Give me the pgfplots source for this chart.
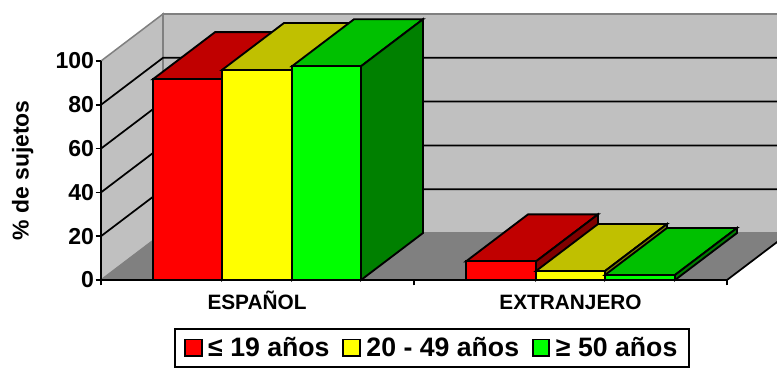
\documentclass[border=0pt]{standalone}
\usepackage{pgfplots}
\pgfplotsset{compat=1.18}
\usepackage{fontspec}
\setmainfont{Liberation Sans}
\definecolor{wall}{HTML}{C0C0C0}
\definecolor{flr}{HTML}{808080}
\definecolor{rF}{HTML}{FF0000}\definecolor{rT}{HTML}{C00000}\definecolor{rS}{HTML}{800000}
\definecolor{yF}{HTML}{FFFF00}\definecolor{yT}{HTML}{C0C000}\definecolor{yS}{HTML}{808000}
\definecolor{gF}{HTML}{00FF00}\definecolor{gT}{HTML}{00C000}\definecolor{gS}{HTML}{008000}
\pgfplotsset{
  face/.style={draw=black,line width=1.4pt,line join=miter,mark=none,forget plot},
  grd/.style={draw=black,line width=1.3pt,mark=none,forget plot},
  barf/.style={ybar,bar width=69.5,bar shift=0pt,draw=black,line width=1.4pt,fill=#1},
}
\begin{document}
\begin{tikzpicture}
\useasboundingbox (0,0) rectangle (582.75pt,276pt);
\clip (0,0) rectangle (582.75pt,276pt);
\begin{axis}[
  at={(75.75pt,66pt)},anchor=south west,
  x=0.75pt,y=1.6425pt,
  xmin=101,xmax=727,ymin=0,ymax=100,
  clip=false,axis on top=true,
  axis x line*=bottom,axis y line*=left,
  axis line style={line width=1.3pt,black},
  font=\bfseries\fontsize{15.6}{18}\selectfont,
  /pgf/number format/assume math mode=true,
  ytick={0,20,40,60,80,100},
  ytick style={black,line width=1.3pt},
  tick align=outside,
  major tick length=4pt,minor tick length=4pt,
  yticklabel style={font=\bfseries\fontsize{17.3}{20}\selectfont,inner sep=0pt,xshift=-1pt},
  xtick={257,570.5},
  xticklabels={ESPAÑOL,EXTRANJERO},
  major x tick style={draw=none},
  minor xtick={101,414,727},
  minor x tick style={black,line width=1.3pt},
  xticklabel style={font=\bfseries\fontsize{15.6}{18}\selectfont,inner sep=0pt,text height=11.2pt,text depth=0pt,yshift=-7pt},
  ylabel={\% de sujetos},
  every axis y label/.style={at={(axis description cs:-0.125,0.5)},rotate=90,anchor=center,font=\bfseries\fontsize{17.2}{20}\selectfont},
  legend columns=3,
  legend style={at={(axis description cs:0.5288,-0.31)},anchor=center,draw=black,line width=1.4pt,
    font=\bfseries\fontsize{20}{23}\selectfont,inner xsep=7pt,inner ysep=4.4pt,/tikz/every even column/.style={column sep=7.5pt}},
  legend image code/.code={\draw[#1,line width=1.4pt,fill] (0pt,-6.3pt) rectangle (12.5pt,6.3pt);\path (14.75pt,0pt);},
  legend cell align=left,
]
% walls
\addplot[fill=wall,draw=flr,line width=1.15pt,mark=none,forget plot] coordinates {(101,0)(163,21.46)(163,121.46)(101,100)} --cycle;
\addplot[fill=wall,draw=flr,line width=1.6pt,mark=none,forget plot] coordinates {(163,21.46)(789,21.46)(789,121.46)(163,121.46)} --cycle;
% floor
\addplot[fill=flr,draw=flr,line width=0.5pt,mark=none,forget plot] coordinates {(101,0)(727,0)(789,21.46)(163,21.46)} --cycle;
% gridlines
\addplot[grd] coordinates {(101,20)(163,41.46)(789,41.46)};
\addplot[grd] coordinates {(101,40)(163,61.46)(789,61.46)};
\addplot[grd] coordinates {(101,60)(163,81.46)(789,81.46)};
\addplot[grd] coordinates {(101,80)(163,101.46)(789,101.46)};
% right edge of floor
\addplot[grd] coordinates {(727,0)(789,21.46)};
% ≤ 19 años
\addplot[face,fill=rT] coordinates {(153,91.7)(222,91.7)(284,113.16)(215,113.16)} --cycle;
\addplot[face,fill=rS] coordinates {(222,0)(284,21.46)(284,113.16)(222,91.7)} --cycle;
\addplot[face,fill=rT] coordinates {(466,8.5)(536,8.5)(598,29.96)(528,29.96)} --cycle;
\addplot[face,fill=rS] coordinates {(536,0)(598,21.46)(598,29.96)(536,8.5)} --cycle;
\addplot[barf=rF] coordinates {(187.5,91.7)(501,8.5)};
\addlegendentry{≤ 19 años}
% 20 - 49 años
\addplot[face,fill=yT] coordinates {(222,95.9)(292,95.9)(354,117.36)(284,117.36)} --cycle;
\addplot[face,fill=yS] coordinates {(292,0)(354,21.46)(354,117.36)(292,95.9)} --cycle;
\addplot[face,fill=yT] coordinates {(536,4.1)(605,4.1)(667,25.56)(598,25.56)} --cycle;
\addplot[face,fill=yS] coordinates {(605,0)(667,21.46)(667,25.56)(605,4.1)} --cycle;
\addplot[barf=yF] coordinates {(257,95.9)(570.5,4.1)};
\addlegendentry{20 - 49 años}
% ≥ 50 años
\addplot[face,fill=gT] coordinates {(292,97.6)(361,97.6)(423,119.06)(354,119.06)} --cycle;
\addplot[face,fill=gS] coordinates {(361,0)(423,21.46)(423,119.06)(361,97.6)} --cycle;
\addplot[face,fill=gT] coordinates {(605,2.3)(675,2.3)(737,23.76)(667,23.76)} --cycle;
\addplot[face,fill=gS] coordinates {(675,0)(737,21.46)(737,23.76)(675,2.3)} --cycle;
\addplot[barf=gF] coordinates {(326.5,97.6)(640,2.3)};
\addlegendentry{≥ 50 años}
\end{axis}
\end{tikzpicture}
\end{document}
